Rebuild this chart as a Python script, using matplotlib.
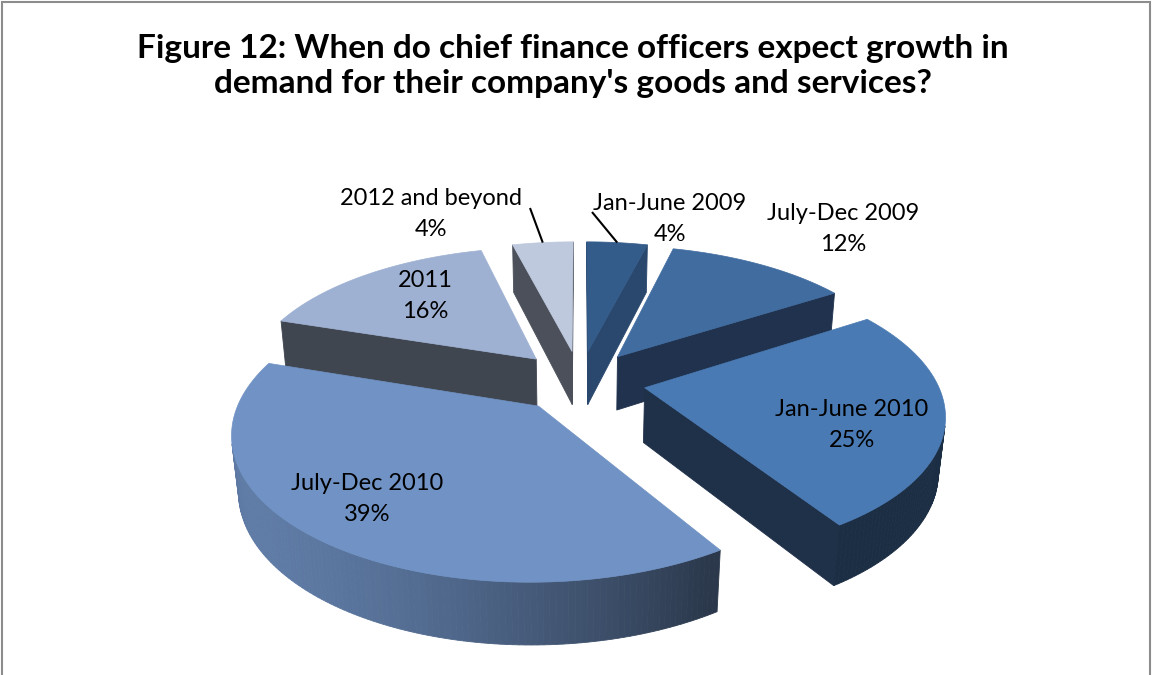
import numpy as np
import matplotlib
matplotlib.use("Agg")
import matplotlib.pyplot as plt
from matplotlib.patches import Polygon, Rectangle

# ---- data ----
categories = ["Jan-June 2009", "July-Dec 2009", "Jan-June 2010",
              "July-Dec 2010", "2011", "2012 and beyond"]
shares = [4, 12, 25, 39, 16, 4]

title = ("Figure 12: When do chief finance officers expect growth in\n"
         "demand for their company's goods and services?")

# ---- style ----
top_colors = ["#345C8A", "#406CA0", "#4A7AB3", "#7092C4", "#9EB1D3", "#BEC9DE"]
cut_colors = ["#2A486E", "#20324E", "#1F3049", "#2C3648", "#404650", "#4B505A"]

FONT = "Lato"
W, H = 1152, 675            # figure size in pixels
CX, CY = 580, 381           # pie centre on the canvas (px)
SCALE = 292                 # px per unit radius
ELEV = np.radians(28)       # camera elevation
PERSP = 0.19                # perspective strength (1 / camera distance)
EXPLODE = 0.225
THICK = 0.215

# label anchors (px, y from top) and leader-line starts
label_xy = [(670, 219), (843, 229), (852, 425), (367, 499), (425, 296), (431, 214)]
leader_from = {0: (592, 212), 5: (530, 208)}

sa, ca = np.sin(ELEV), np.cos(ELEV)
cam = np.array([0.0, sa / PERSP, ca / PERSP])
light = np.array([-1.0, 0.0, 0.6])
light /= np.linalg.norm(light)


def project(pts):
    pts = np.asarray(pts, float)
    X, Y, Z = pts[..., 0], pts[..., 1], pts[..., 2]
    yc = Y * ca - Z * sa
    zc = Y * sa + Z * ca
    w = 1 - PERSP * zc
    return np.stack([X / w, yc / w], axis=-1)


def unit(a):
    return np.array([np.sin(a), 0.0, -np.cos(a)])


def px(x, y):
    return (x - CX) / SCALE, (CY - y) / SCALE


def rgb(c):
    return np.array(matplotlib.colors.to_rgb(c))


fig = plt.figure(figsize=(W / 100, H / 100), dpi=100)
ax = fig.add_axes([0, 0, 1, 1])
ax.set_xlim(-CX / SCALE, (W - CX) / SCALE)
ax.set_ylim(-(H - CY) / SCALE, CY / SCALE)
ax.axis("off")

fractions = np.array(shares, float) / sum(shares)
bounds = np.radians(360 * np.concatenate([[0], np.cumsum(fractions)]))
down = np.array([0.0, -THICK, 0.0])

slices = []
for i in range(len(shares)):
    t1, t2 = bounds[i], bounds[i + 1]
    m = 0.5 * (t1 + t2)
    off = EXPLODE * unit(m)
    key = (off + 0.5 * unit(m))[2] * ca
    slices.append((key, i, t1, t2, m, off))
slices.sort()

z = 1
for key, i, t1, t2, m, off in slices:
    top = rgb(top_colors[i])
    faces = []
    # radial cut faces
    for a, sign in ((t1, -1), (t2, 1)):
        n = sign * np.array([np.cos(a), 0.0, np.sin(a)])
        quad = [off, off + unit(a), off + unit(a) + down, off + down]
        if np.dot(n, cam - (off + 0.5 * unit(a) + 0.5 * down)) > 0:
            faces.append((quad, rgb(cut_colors[i])))
    # outer curved wall
    arc = np.linspace(t1, t2, max(6, int(np.degrees(t2 - t1) / 1.0)))
    for a0, a1 in zip(arc[:-1], arc[1:]):
        am = 0.5 * (a0 + a1)
        n = unit(am)
        p = off + n + 0.5 * down
        if np.dot(n, cam - p) > 0:
            wgt = np.clip(np.dot(n, light), 0, 1)
            col = top * (0.38 + (0.85 - 0.38) * wgt)
            quad = [off + unit(a0), off + unit(a1),
                    off + unit(a1) + down, off + unit(a0) + down]
            faces.append((quad, col))
    for quad, col in faces:
        ax.add_patch(Polygon(project(quad), closed=True, facecolor=col,
                             edgecolor=col, linewidth=0.6, zorder=z))
    # top face
    top_pts = [off] + [off + unit(a) for a in arc]
    ax.add_patch(Polygon(project(top_pts), closed=True, facecolor=top,
                         edgecolor=top, linewidth=0.5, zorder=z + 0.5))
    z += 1

# labels
for i, (cat, val) in enumerate(zip(categories, shares)):
    lx, ly = px(*label_xy[i])
    ax.text(lx, ly, f"{cat}\n{val}%", ha="center", va="center",
            fontsize=17, family=FONT, color="black", linespacing=1.6,
            zorder=20)

# leader lines for the thin slices
for i, (sx, sy) in leader_from.items():
    t1, t2 = bounds[i], bounds[i + 1]
    m = 0.5 * (t1 + t2)
    off = EXPLODE * unit(m)
    end = project(off + unit(m))
    start = px(sx, sy)
    ax.plot([start[0], end[0]], [start[1], end[1]], color="black",
            linewidth=1.5, zorder=21, solid_capstyle="butt")

fig.text(0.497, 1 - 66 / H, title, ha="center", va="center", fontsize=24,
         fontweight="bold", family=FONT, linespacing=1.22)

# chart frame
fig.patches.append(Rectangle((2 / W, -0.1), (W - 4) / W, 1.1 - 2 / H,
                             transform=fig.transFigure, fill=False,
                             edgecolor="#8C8C8C", linewidth=1.5))

fig.savefig("out.png", dpi=100)
